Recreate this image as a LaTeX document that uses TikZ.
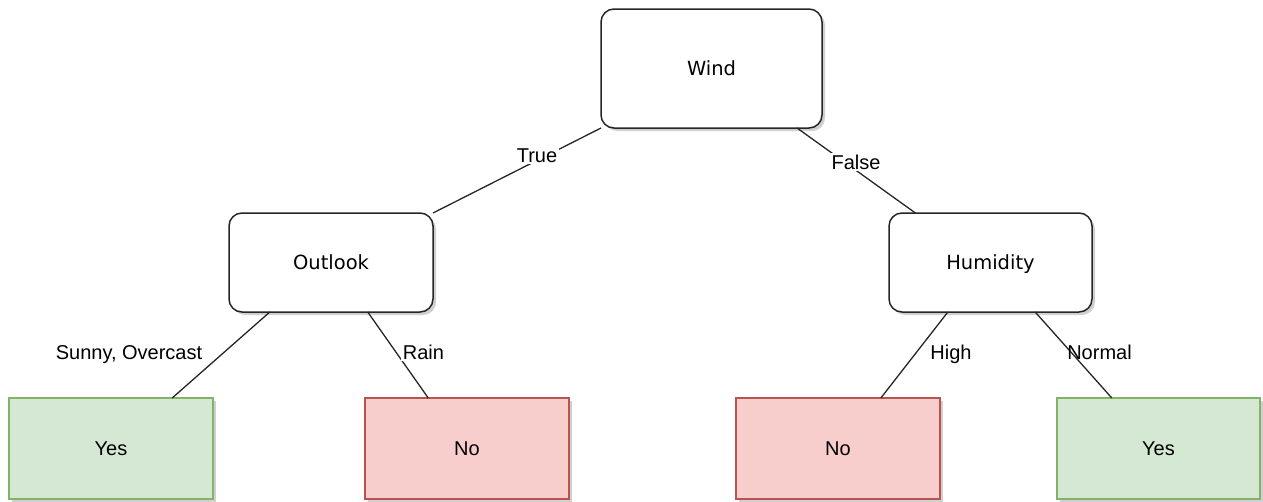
\documentclass[tikz,border=0pt]{standalone}
\usepackage{fontspec}
\setmainfont{Liberation Sans}
\newfontfamily\decfont{DejaVu Sans}
\usetikzlibrary{calc,shadows}

\definecolor{yesfill}{HTML}{D5E8D4}
\definecolor{yesline}{HTML}{82B366}
\definecolor{nofill}{HTML}{F8CECC}
\definecolor{noline}{HTML}{B85450}

\begin{document}
\begin{tikzpicture}[x=1pt,y=-1pt,
  softshadow/.style={drop shadow={shadow xshift=3pt, shadow yshift=-3pt, opacity=0.3, fill=black!60}},
  decision/.style={draw=black!85, line width=1.5pt, rounded corners=13pt, fill=white,
    outer sep=0pt, inner sep=0pt, text height=14.2pt, text depth=0pt,
    font=\decfont\fontsize{19.5}{23}\selectfont, softshadow},
  leaf/.style={line width=1.5pt, outer sep=0pt, inner sep=0pt, text height=14.3pt, text depth=0pt,
    minimum width=204pt, minimum height=101pt, font=\fontsize{20}{24}\selectfont, softshadow},
  yesleaf/.style={leaf, draw=yesline, fill=yesfill},
  noleaf/.style={leaf, draw=noline, fill=nofill},
  edge/.style={draw=black!85, line width=1.3pt},
  lbl/.style={font=\fontsize{20}{24}\selectfont, inner sep=2pt, text height=14.3pt, text depth=0pt},
  lblbg/.style={lbl, fill=white}]

  % page frame
  \fill[white] (0,0) rectangle (1263,501);
  \useasboundingbox (0,0) rectangle (1263,501);

  % decision nodes
  \node[decision, minimum width=221pt, minimum height=119pt] (wind) at (711.5,68.5) {Wind};
  \node[decision, minimum width=204pt, minimum height=99pt] (outlook) at (331,262.5) {Outlook};
  \node[decision, minimum width=203pt, minimum height=99pt] (hum) at (990.5,262.5) {Humidity};

  % leaves
  \node[yesleaf] (yes1) at (111,448.5) {Yes};
  \node[noleaf]  (no1)  at (467,448.5) {No};
  \node[noleaf]  (no2)  at (838,448.5) {No};
  \node[yesleaf, minimum width=203pt] (yes2) at (1158.5,448.5) {Yes};

  % branches
  \draw[edge] (wind.south west) -- (outlook.north east);
  \draw[edge] ($(wind.south west)!0.887!(wind.south east)$) -- ($(hum.north west)!0.13!(hum.north east)$);
  \draw[edge] ($(outlook.south west)!0.20!(outlook.south east)$) -- ($(yes1.north west)!0.80!(yes1.north east)$);
  \draw[edge] ($(outlook.south west)!0.68!(outlook.south east)$) -- ($(no1.north west)!0.31!(no1.north east)$);
  \draw[edge] ($(hum.south west)!0.29!(hum.south east)$) -- ($(no2.north west)!0.71!(no2.north east)$);
  \draw[edge] ($(hum.south west)!0.72!(hum.south east)$) -- ($(yes2.north west)!0.27!(yes2.north east)$);

  % branch labels
  \node[lblbg] (ltrue)  at (537,155) {True};
  \node[lblbg] (lfalse) at (856,162) {False};
  \node[lbl]   (lsunny) at (129,352) {Sunny, Overcast};
  \node[lblbg] (lrain)  at (423.5,352) {Rain};
  \node[lbl]   (lhigh)  at (951,352) {High};
  \node[lbl]   (lnorm)  at (1099.5,352) {Normal};
\end{tikzpicture}
\end{document}
